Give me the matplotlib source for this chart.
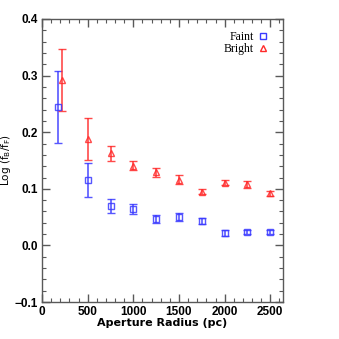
import matplotlib
matplotlib.use("Agg")
import matplotlib.pyplot as plt
from matplotlib.ticker import MultipleLocator
from matplotlib.lines import Line2D

# Data
faint_x = [175, 500, 750, 1000, 1250, 1500, 1750, 2000, 2250, 2500]
faint_y = [0.245, 0.116, 0.070, 0.065, 0.047, 0.051, 0.043, 0.022, 0.024, 0.024]
faint_err = [0.064, 0.030, 0.012, 0.009, 0.007, 0.007, 0.005, 0.005, 0.004, 0.004]

bright_x = [220, 500, 750, 1000, 1250, 1500, 1750, 2000, 2250, 2500]
bright_y = [0.292, 0.188, 0.163, 0.141, 0.129, 0.116, 0.095, 0.111, 0.108, 0.092]
bright_err = [0.055, 0.037, 0.013, 0.008, 0.008, 0.008, 0.005, 0.005, 0.006, 0.004]

x_ticks = [0, 500, 1000, 1500, 2000, 2500]
y_ticks = [-0.1, 0.0, 0.1, 0.2, 0.3, 0.4]
labels = ['Faint', 'Bright']

fig = plt.figure(figsize=(3.39, 3.39), dpi=100)
ax = fig.add_axes([0.124, 0.109, 0.711, 0.835])

blue = '#3a3aff'
red = '#ff2a2a'

ax.errorbar(faint_x, faint_y, yerr=faint_err, fmt='s', mfc='none', mec=blue,
            ecolor=blue, ms=5, mew=1.0, elinewidth=1.2, capsize=3, capthick=1.0,
            alpha=0.85)
ax.errorbar(bright_x, bright_y, yerr=bright_err, fmt='^', mfc='none', mec=red,
            ecolor=red, ms=5, mew=1.0, elinewidth=1.2, capsize=3, capthick=1.0,
            alpha=0.85)

ax.set_xlim(0, 2640)
ax.set_ylim(-0.1, 0.4)
ax.set_xticks(x_ticks)
ax.set_yticks(y_ticks)
ax.set_yticklabels(['\u22120.1', '0.0', '0.1', '0.2', '0.3', '0.4'])
ax.xaxis.set_minor_locator(MultipleLocator(100))
ax.yaxis.set_minor_locator(MultipleLocator(0.02))

axcol = '0.35'
for s in ax.spines.values():
    s.set_color(axcol)
    s.set_linewidth(1.0)
ax.tick_params(which='both', direction='in', top=True, right=True, color=axcol,
               labelsize=8, pad=3)
ax.tick_params(which='major', length=6, width=1.0)
ax.tick_params(which='minor', length=3, width=0.8)
for lab in ax.get_xticklabels() + ax.get_yticklabels():
    lab.set_family('Liberation Sans')
    lab.set_fontsize(8.5)
    lab.set_fontweight('bold')

ax.set_xlabel('Aperture Radius (pc)', fontsize=8, fontweight='bold',
              family='DejaVu Sans', labelpad=0)
ax.set_ylabel('Log (f$_{\\rm B}$/f$_{\\rm F}$)', fontsize=7.5, family='DejaVu Sans')
ax.yaxis.set_label_coords(-0.12, 0.5)

handles = [Line2D([], [], ls='none', marker='s', mfc='none', mec=blue, ms=5, mew=1.0),
           Line2D([], [], ls='none', marker='^', mfc='none', mec=red, ms=5, mew=1.0)]
leg = ax.legend(handles, labels, loc='upper right', frameon=False, markerfirst=False,
                prop={'family': 'Liberation Serif', 'size': 8.5},
                handletextpad=0.3, labelspacing=0.05, borderaxespad=0.6,
                handlelength=1.0, bbox_to_anchor=(0.99, 1.0))

fig.savefig('out.png', dpi=100)
